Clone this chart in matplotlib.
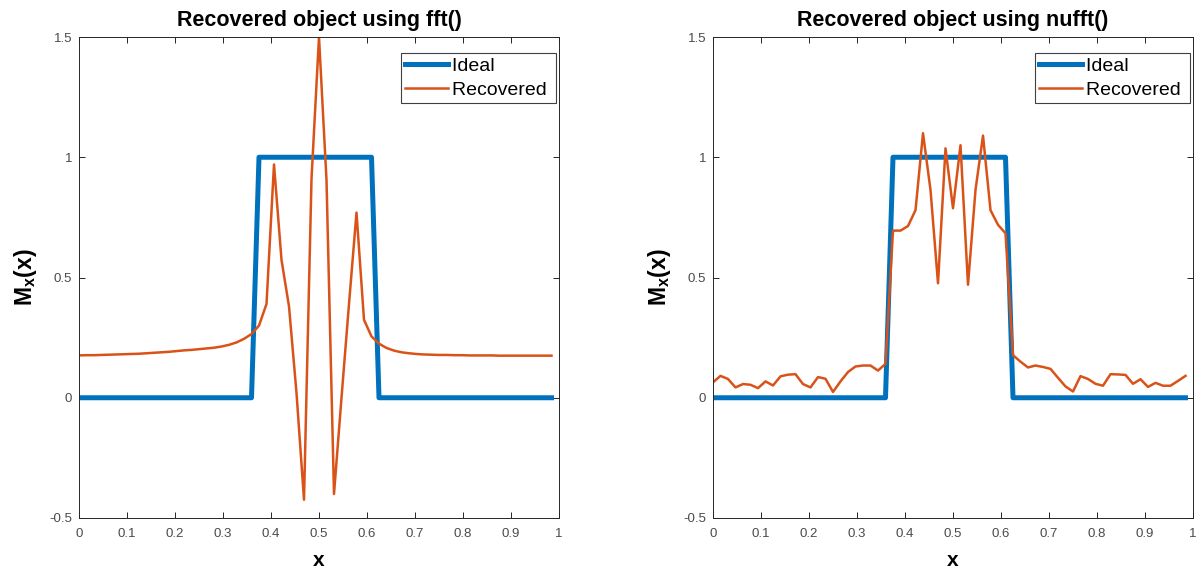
import numpy as np
import matplotlib
matplotlib.use("Agg")
import matplotlib.pyplot as plt

plt.rcParams['font.family'] = ['Liberation Sans', 'DejaVu Sans']
plt.rcParams['mathtext.fontset'] = 'custom'
plt.rcParams['mathtext.rm'] = 'Liberation Sans'
plt.rcParams['mathtext.bf'] = 'Liberation Sans:bold'

## sample grid x = k/64
x = np.arange(64) / 64

## ideal rect object
ideal = np.zeros(64)
ideal[24:40] = 1.0

## recovered with fft()
rec_fft = [0.176, 0.177, 0.177, 0.178, 0.179, 0.180, 0.181, 0.182, 0.183, 0.185,
           0.187, 0.189, 0.191, 0.194, 0.197, 0.199, 0.202, 0.205, 0.208, 0.213,
           0.220, 0.230, 0.245, 0.265, 0.300, 0.390, 0.970, 0.573, 0.380, 0.020,
           -0.424, 0.910, 1.500, 0.905, -0.400, 0.000, 0.390, 0.770, 0.324, 0.255,
           0.225, 0.207, 0.196, 0.189, 0.185, 0.182, 0.180, 0.179, 0.178, 0.178,
           0.177, 0.177, 0.176, 0.176, 0.176, 0.176, 0.175, 0.175, 0.175, 0.175,
           0.175, 0.175, 0.175, 0.175]

## recovered with nufft()
rec_nufft = [0.064, 0.091, 0.078, 0.043, 0.057, 0.054, 0.040, 0.068, 0.051, 0.089,
             0.096, 0.098, 0.057, 0.043, 0.086, 0.079, 0.024, 0.068, 0.107, 0.130,
             0.134, 0.134, 0.113, 0.141, 0.695, 0.695, 0.714, 0.780, 1.100, 0.864,
             0.476, 1.037, 0.788, 1.050, 0.470, 0.864, 1.090, 0.780, 0.719, 0.684,
             0.177, 0.150, 0.126, 0.134, 0.128, 0.120, 0.083, 0.047, 0.026, 0.090,
             0.078, 0.058, 0.050, 0.098, 0.097, 0.095, 0.058, 0.077, 0.045, 0.062,
             0.050, 0.050, 0.070, 0.091]

titles = ['Recovered object using fft()', 'Recovered object using nufft()']
xticks = np.arange(0, 1.01, 0.1)
xticklabels = ['0', '0.1', '0.2', '0.3', '0.4', '0.5', '0.6', '0.7', '0.8', '0.9', '1']
yticks = [-0.5, 0, 0.5, 1, 1.5]
yticklabels = ['-0.5', '0', '0.5', '1', '1.5']

blue = '#0072BD'
orange = '#D95319'
axcol = '#262626'

fig = plt.figure(figsize=(12.03, 5.72), dpi=100)
lefts = [79 / 1203, 713 / 1203]

for left, rec, title in zip(lefts, [rec_fft, rec_nufft], titles):
    ax = fig.add_axes([left, 54 / 572, 480 / 1203, 481 / 572])
    ax.plot(x, ideal, color=blue, lw=3.6, label='Ideal ')
    ax.plot(x, rec, color=orange, lw=1.8, label='Recovered ')
    ax.set_xlim(0, 1)
    ax.set_ylim(-0.5, 1.5)
    ax.set_xticks(xticks)
    ax.set_xticklabels(xticklabels)
    ax.set_yticks(yticks)
    ax.set_yticklabels(yticklabels)
    ax.tick_params(direction='in', top=True, right=True, labelsize=9.5,
                   colors=axcol, labelcolor='#4a4a4a', length=4, width=0.7)
    ax.tick_params(axis='x', pad=7)
    ax.tick_params(axis='y', pad=5)
    for s in ax.spines.values():
        s.set_color(axcol)
        s.set_linewidth(0.7)
    ax.set_title(title, fontsize=15.5, fontweight='bold', pad=8)
    ax.set_xlabel('x', fontsize=15, fontweight='bold', labelpad=8)
    ax.set_ylabel(r'$\mathbf{M_x(x)}$', fontsize=16.5, labelpad=7)
    leg = ax.legend(loc='upper right', bbox_to_anchor=(0.994, 0.967),
                    fontsize=14, fancybox=False, framealpha=1,
                    edgecolor='#404040', borderaxespad=0,
                    handlelength=2.2, handletextpad=0.2, borderpad=0.22,
                    labelspacing=0.35)
    leg.get_frame().set_linewidth(0.8)

fig.savefig('out.png', dpi=100)
